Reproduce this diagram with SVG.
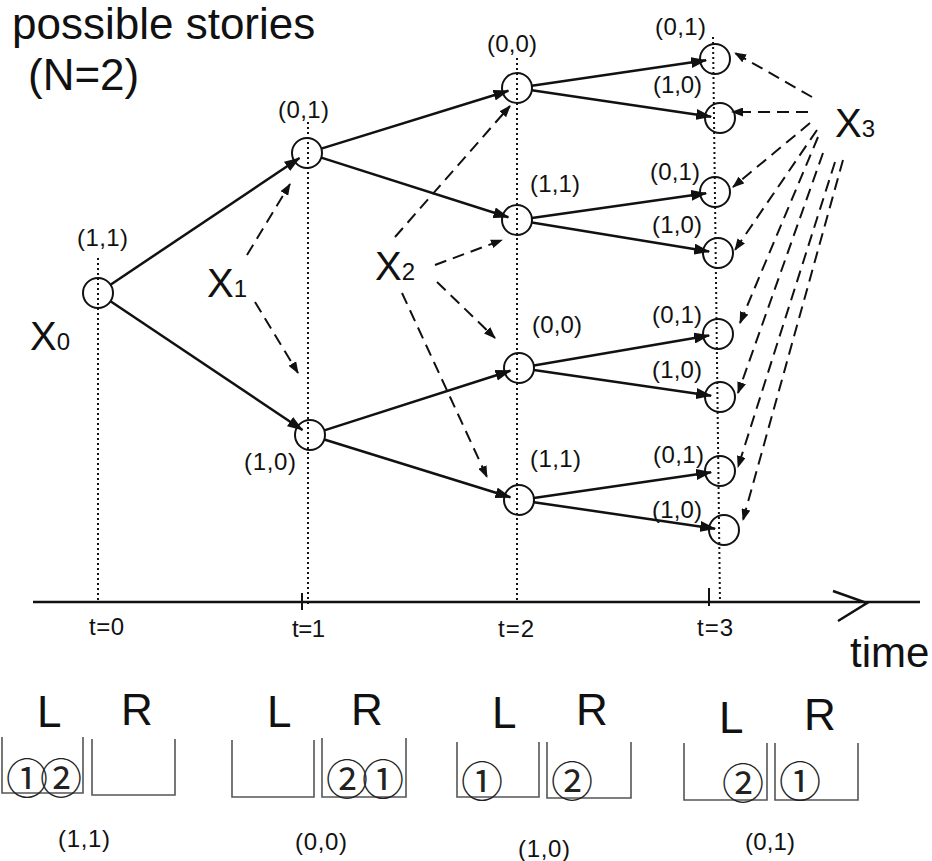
<svg xmlns="http://www.w3.org/2000/svg" width="932" height="861" viewBox="0 0 932 861">
<defs>
<marker id="ah" markerUnits="userSpaceOnUse" markerWidth="16" markerHeight="11" refX="15" refY="5.5" orient="auto">
<path d="M0,0 L16,5.5 L0,11 z" fill="#111"/>
</marker>
<marker id="dh" markerUnits="userSpaceOnUse" markerWidth="12" markerHeight="9" refX="11" refY="4.5" orient="auto">
<path d="M0,0 L12,4.5 L0,9 z" fill="#111"/>
</marker>
<style>
.t{font-family:"Liberation Sans",Arial,sans-serif;fill:#111}
.big{font-size:44px}
.x{font-size:40px}
.sub{font-size:24px}
.lab{font-size:24px}
.circ{font-family:"Noto Sans CJK JP","DejaVu Sans",sans-serif;font-size:42px;fill:#222}
.mid{text-anchor:middle}
.node circle{fill:none;stroke:#111;stroke-width:2}
.solid{stroke:#111;stroke-width:2.5;fill:none;marker-end:url(#ah)}
.dash{stroke:#111;stroke-width:2;fill:none;stroke-dasharray:12 7;marker-end:url(#dh)}
.dot{stroke:#111;stroke-width:2;stroke-dasharray:2 3;fill:none}
.box{stroke:#555;stroke-width:1.6;fill:none}
</style>
</defs>
<rect width="932" height="861" fill="#fff"/>

<text class="t big" x="12" y="39">possible stories</text>
<text class="t big" x="28" y="90">(N=2)</text>

<g id="timelines">
<line class="dot" x1="98" y1="258" x2="98" y2="601"/>
<line class="dot" x1="308" y1="122" x2="308" y2="606"/>
<line class="dot" x1="517" y1="58" x2="517" y2="601"/>
<line class="dot" x1="713" y1="37" x2="720" y2="603"/>
</g>

<g id="axis" stroke="#111" stroke-width="2.5" fill="none">
<line x1="33" y1="602" x2="920" y2="602"/>
<polyline points="833,591 867,603 838,621"/>
<line x1="302" y1="593" x2="302" y2="610" stroke-width="2"/>
<line x1="709" y1="588" x2="709" y2="606" stroke-width="2"/>
</g>
<text class="t lab" x="89" y="635" textLength="35">t=0</text>
<text class="t lab" x="292" y="637" textLength="33">t=1</text>
<text class="t lab" x="498" y="637" textLength="36">t=2</text>
<text class="t lab" x="697" y="636" textLength="36">t=3</text>
<text class="t" x="850" y="667" font-size="42">time</text>

<g id="connectors">
<path class="solid" d="M110.5,284.7 L299.5,158"/>
<path class="solid" d="M110.5,301.3 L302.5,430"/>
<path class="solid" d="M321.3,148.6 L508.4,90.7"/>
<path class="solid" d="M321.3,157.6 L508.4,217.3"/>
<path class="solid" d="M324.3,430.4 L510.4,370.7"/>
<path class="solid" d="M324.3,439.5 L510.4,497.3"/>
<path class="solid" d="M531.8,85.8 L706.1,60.3"/>
<path class="solid" d="M531.8,90.2 L711.1,116.7"/>
<path class="solid" d="M531.9,217.9 L706.1,193.3"/>
<path class="solid" d="M531.8,222.4 L709.1,251.5"/>
<path class="solid" d="M533.8,365.5 L709.1,335.5"/>
<path class="solid" d="M533.8,370.1 L711.1,395.7"/>
<path class="solid" d="M533.8,497.9 L711.1,472.3"/>
<path class="solid" d="M533.8,502.2 L715.1,528.7"/>

<path class="dash" d="M247,255 L290,184"/>
<path class="dash" d="M255,302 L298,373"/>
<path class="dash" d="M395,237 L510,106"/>
<path class="dash" d="M435,265 L502,240"/>
<path class="dash" d="M437,282 L495,338"/>
<path class="dash" d="M402,293 L487,477"/>
<path class="dash" d="M812,97 L735,53"/>
<path class="dash" d="M808,112 L732,112"/>
<path class="dash" d="M810,123 L733,187"/>
<path class="dash" d="M817,130 L735,250"/>
<path class="dash" d="M818,137 L740,323"/>
<path class="dash" d="M823,153 L738,393"/>
<path class="dash" d="M835,162 L738,467"/>
<path class="dash" d="M843,160 L743,520"/>
</g>

<g id="n0" class="node"><circle cx="98" cy="293" r="15"/><text class="t lab" x="77" y="246" textLength="51">(1,1)</text></g>
<g id="n1a" class="node"><circle cx="307" cy="153" r="15"/><text class="t lab" x="278" y="118" textLength="51">(0,1)</text></g>
<g id="n1b" class="node"><circle cx="310" cy="435" r="15"/><text class="t lab" x="244" y="470" textLength="52">(1,0)</text></g>
<g id="n2a" class="node"><circle cx="517" cy="88" r="15"/><text class="t lab" x="487" y="52" textLength="50">(0,0)</text></g>
<g id="n2b" class="node"><circle cx="517" cy="220" r="15"/><text class="t lab" x="530" y="192" textLength="50">(1,1)</text></g>
<g id="n2c" class="node"><circle cx="519" cy="368" r="15"/><text class="t lab" x="532" y="333" textLength="50">(0,0)</text></g>
<g id="n2d" class="node"><circle cx="519" cy="500" r="15"/><text class="t lab" x="530" y="467" textLength="51">(1,1)</text></g>
<g id="n3a" class="node"><circle cx="715" cy="59" r="15"/><text class="t lab" x="655" y="35" textLength="51">(0,1)</text></g>
<g id="n3b" class="node"><circle cx="720" cy="118" r="15"/><text class="t lab" x="653" y="93" textLength="49">(1,0)</text></g>
<g id="n3c" class="node"><circle cx="715" cy="192" r="15"/><text class="t lab" x="650" y="180" textLength="50">(0,1)</text></g>
<g id="n3d" class="node"><circle cx="718" cy="253" r="15"/><text class="t lab" x="652" y="233" textLength="50">(1,0)</text></g>
<g id="n3e" class="node"><circle cx="718" cy="334" r="15"/><text class="t lab" x="652" y="323" textLength="50">(0,1)</text></g>
<g id="n3f" class="node"><circle cx="720" cy="397" r="15"/><text class="t lab" x="652" y="378" textLength="50">(1,0)</text></g>
<g id="n3g" class="node"><circle cx="720" cy="471" r="15"/><text class="t lab" x="653" y="463" textLength="51">(0,1)</text></g>
<g id="n3h" class="node"><circle cx="724" cy="530" r="15"/><text class="t lab" x="652" y="518" textLength="50">(1,0)</text></g>

<g id="X0"><text class="t x" x="30" y="350">X<tspan class="sub">0</tspan></text></g>
<g id="X1"><text class="t x" x="207" y="297">X<tspan class="sub">1</tspan></text></g>
<g id="X2"><text class="t x" x="375" y="280">X<tspan class="sub">2</tspan></text></g>
<g id="X3"><text class="t x" x="835" y="137">X<tspan class="sub">3</tspan></text></g>

<g id="state11">
<text class="t big" x="37" y="727">L</text>
<text class="t big" x="121" y="725">R</text>
<polyline class="box" points="2,737 2,793 83,793 83,737"/>
<polyline class="box" points="92,739 92,795 175,795 175,739"/>
<text class="circ" x="6" y="794" letter-spacing="-8">①②</text>
<text class="t lab" x="58" y="847" textLength="52">(1,1)</text>
</g>
<g id="state00">
<text class="t big" x="267" y="727">L</text>
<text class="t big" x="351" y="725">R</text>
<polyline class="box" points="232,740 232,797 314,797 314,740"/>
<polyline class="box" points="322,738 322,797 406,797 406,738"/>
<text class="circ" x="326" y="795" letter-spacing="-6">②①</text>
<text class="t lab" x="295" y="850" textLength="52">(0,0)</text>
</g>
<g id="state10">
<text class="t big" x="492" y="728">L</text>
<text class="t big" x="576" y="725">R</text>
<polyline class="box" points="457,742 457,797 539,797 539,742"/>
<polyline class="box" points="547,742 547,798 631,798 631,742"/>
<text class="circ mid" x="482" y="797">①</text>
<text class="circ mid" x="572" y="797">②</text>
<text class="t lab" x="518" y="857" textLength="52">(1,0)</text>
</g>
<g id="state01">
<text class="t big" x="719" y="733">L</text>
<text class="t big" x="804" y="730">R</text>
<polyline class="box" points="684,743 684,800 767,800 767,743"/>
<polyline class="box" points="775,743 775,800 858,800 858,743"/>
<text class="circ mid" x="743" y="799">②</text>
<text class="circ mid" x="800" y="797">①</text>
<text class="t lab" x="745" y="850" textLength="50">(0,1)</text>
</g>
</svg>
